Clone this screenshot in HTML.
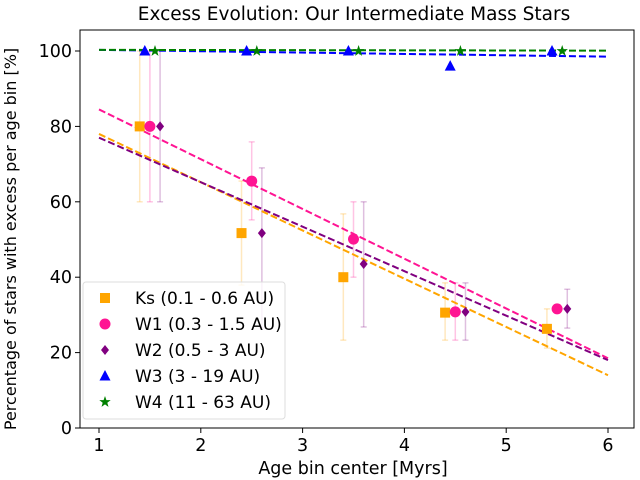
<!DOCTYPE html>
<html><head><meta charset="utf-8"><style>
body{margin:0;background:#fff;}
svg{display:block;font-family:"DejaVu Sans","Liberation Sans",sans-serif;}
</style></head><body>
<svg id="chart" width="640" height="480">
<rect width="640" height="480" fill="#fff"/>
<text x="354" y="20" text-anchor="middle" font-size="18.5">Excess Evolution: Our Intermediate Mass Stars</text>
<text x="353" y="474" text-anchor="middle" font-size="17.5">Age bin center [Myrs]</text>
<text transform="translate(16,239) rotate(-90)" text-anchor="middle" font-size="16">Percentage of stars with excess per age bin [%]</text>
<g id="plot"></g>
</svg>
<script>
const xTicks=[1,2,3,4,5,6];
const yTicks=[0,20,40,60,80,100];
const ages=[1,2,3,4,5];
const ksVals=[80,51.7,40,30.6,26.3];
const ksLo=[60,37.9,23.3,23.3,21.2];
const ksHi=[100,65.5,56.8,38.5,31.6];
const w1Vals=[80,65.5,50.1,30.8,31.6];
const w1Lo=[60,55.2,40,23.3,31.6];
const w1Hi=[100,75.9,60,38.5,31.6];
const w2Vals=[80,51.7,43.5,30.8,31.6];
const w2Lo=[60,26.5,26.8,23.3,26.5];
const w2Hi=[100,69,60,38.5,36.8];
const w3Vals=[100,100,100,96,100];
const w4Vals=[100,100,100,100,100];
const fitX=[1,6];
const ksFit=[78,14];
const w1Fit=[84.5,18.5];
const w2Fit=[77,18];
const w3Fit=[100.3,98.5];
const w4Fit=[100.3,100.1];

const L=80,R=634,T=30,B=428;
const xs=v=>99+(v-1)*101.8;
const ys=v=>428-v*3.77;
const NS="http://www.w3.org/2000/svg";
const g=document.getElementById('plot');
function mk(tag,attrs,parent){const e=document.createElementNS(NS,tag);for(const k in attrs)e.setAttribute(k,attrs[k]);(parent||g).appendChild(e);return e;}

xTicks.forEach(t=>{
  const l=mk('line',{x1:xs(t),x2:xs(t),y1:B,y2:B+5,stroke:'#000'});
  
  
  const tx=mk('text',{x:xs(t),y:B+23,'text-anchor':'middle','font-size':17.5});
  tx.textContent=t;
  
  
});
yTicks.forEach(t=>{
  const l=mk('line',{x1:L-5,x2:L,y1:ys(t),y2:ys(t),stroke:'#000'});
  
  
  const tx=mk('text',{x:L-8,y:ys(t)+6,'text-anchor':'end','font-size':17.5});
  tx.textContent=t;
  
  
});

function fit(vals,color,name){
  const l=mk('line',{x1:xs(fitX[0]),y1:ys(vals[0]),x2:xs(fitX[1]),y2:ys(vals[1]),stroke:color,'stroke-width':2,'stroke-dasharray':'7,3'});
  
  
}
function err(off,lo,hi,color,name){
  ages.forEach((a,i)=>{
    if(hi[i]===lo[i])return;
    const x=xs(a+off);
    const grp=mk('g',{stroke:color,'stroke-opacity':0.25,'stroke-width':1.5});
    
    
    mk('line',{x1:x,x2:x,y1:ys(lo[i]),y2:ys(hi[i])},grp);
    mk('line',{x1:x-3,x2:x+3,y1:ys(lo[i]),y2:ys(lo[i])},grp);
    mk('line',{x1:x-3,x2:x+3,y1:ys(hi[i]),y2:ys(hi[i])},grp);
  });
}
function marker(shape,x,y,color,s,parent){
  if(shape==='sq')return mk('rect',{x:x-5,y:y-5,width:10,height:10,fill:color},parent);
  if(shape==='ci')return mk('circle',{cx:x,cy:y,r:5.5,fill:color},parent);
  if(shape==='di')return mk('polygon',{points:`${x},${y-5} ${x+4},${y} ${x},${y+5} ${x-4},${y}`,fill:color},parent);
  if(shape==='tr')return mk('polygon',{points:`${x},${y-6} ${x+5.5},${y+4.5} ${x-5.5},${y+4.5}`,fill:color},parent);
  let p=[];for(let k=0;k<10;k++){const r=k%2?2.4:6;const a=-Math.PI/2+k*Math.PI/5;p.push((x+r*Math.cos(a)).toFixed(1)+','+(y+r*Math.sin(a)).toFixed(1));}
  return mk('polygon',{points:p.join(' '),fill:color},parent);
}
function pts(off,vals,shape,color,name){
  ages.forEach((a,i)=>{
    const m=marker(shape,xs(a+off),ys(vals[i]),color);
    
    
  });
}
err(0.4,ksLo,ksHi,'orange','ks-error-bar');
err(0.5,w1Lo,w1Hi,'#ff1493','w1-error-bar');
err(0.6,w2Lo,w2Hi,'purple','w2-error-bar');
fit(ksFit,'orange','ks-fit-line');
fit(w1Fit,'#ff1493','w1-fit-line');
fit(w2Fit,'purple','w2-fit-line');
fit(w3Fit,'blue','w3-fit-line');
fit(w4Fit,'green','w4-fit-line');
pts(0.4,ksVals,'sq','orange','ks-point');
pts(0.5,w1Vals,'ci','#ff1493','w1-point');
pts(0.6,w2Vals,'di','purple','w2-point');
pts(0.45,w3Vals,'tr','blue','w3-point');
pts(0.55,w4Vals,'st','green','w4-point');

const fr=mk('rect',{x:L,y:T,width:R-L,height:B-T,fill:'none',stroke:'#000','stroke-width':1});



const lg=mk('g',{});


mk('rect',{x:83,y:282,width:202,height:137,rx:3,fill:'#fff','fill-opacity':0.8,stroke:'#ddd'},lg);
const legLabels=['Ks (0.1 - 0.6 AU)','W1 (0.3 - 1.5 AU)','W2 (0.5 - 3 AU)','W3 (3 - 19 AU)','W4 (11 - 63 AU)'];
const legShapes=['sq','ci','di','tr','st'];
const legColors=['orange','#ff1493','purple','blue','green'];
legLabels.forEach((t,i)=>{
  const y=298+i*26;
  const e=mk('g',{},lg);
  
  
  marker(legShapes[i],105,y,legColors[i],0,e);
  const tx=mk('text',{x:135,y:y+6,'font-size':17},e);
  tx.textContent=t;
});
</script>
</body></html>
